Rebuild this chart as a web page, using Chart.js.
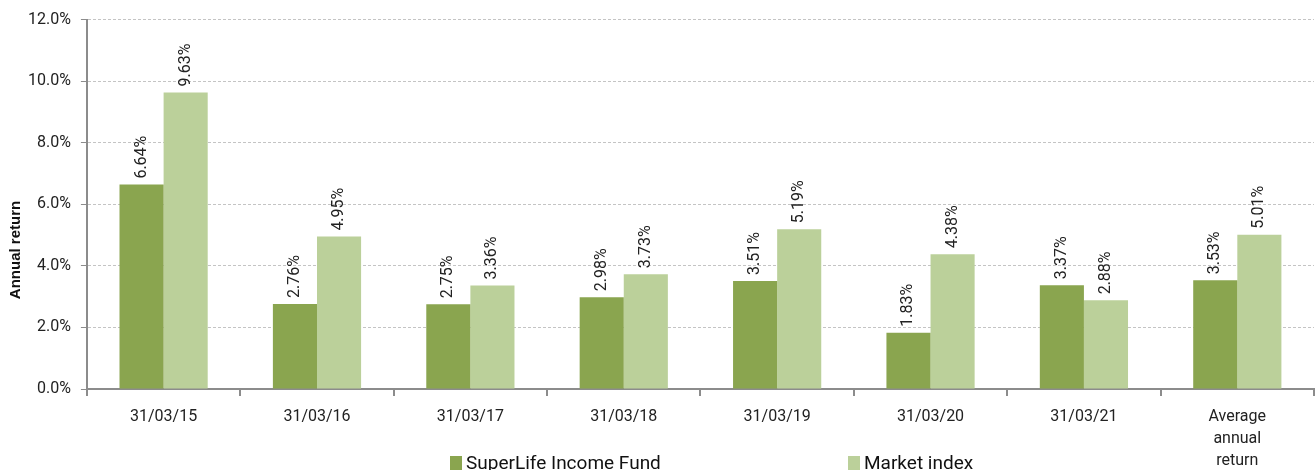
<!DOCTYPE html>
<html lang="en">
<head>
	<meta charset="UTF-8">
	<title>Annual return</title>
	<script src="https://cdn.jsdelivr.net/npm/chart.js@4/dist/chart.umd.min.js"></script>
	<style>
		html, body { margin: 0; padding: 0; background: #fff; }
		#wrap { width: 1316px; height: 470px; }
	</style>
</head>
<body>
	<div id="wrap"><canvas id="barChart"></canvas></div>

	<script>
	// chart data
	var categories = ["31/03/15", "31/03/16", "31/03/17", "31/03/18", "31/03/19", "31/03/20", "31/03/21", ["Average", "annual", "return"]];
	var fundReturns = [6.64, 2.76, 2.75, 2.98, 3.51, 1.83, 3.37, 3.53];
	var marketReturns = [9.63, 4.95, 3.36, 3.73, 5.19, 4.38, 2.88, 5.01];
	var seriesNames = ["SuperLife Income Fund", "Market index"];
	var yTicks = [0, 2, 4, 6, 8, 10, 12];

	var darkGreen = "#8aa54f";
	var lightGreen = "#bbd09a";
	var axisGrey = "#8c8c8c";

	// rotated value labels above each bar
	var valueLabels = {
		id: "valueLabels",
		afterDatasetsDraw: function(chart) {
			var ctx = chart.ctx;
			ctx.save();
			ctx.font = "16px Roboto";
			ctx.fillStyle = "#222";
			ctx.textAlign = "left";
			ctx.textBaseline = "middle";
			chart.data.datasets.forEach(function(ds, i) {
				chart.getDatasetMeta(i).data.forEach(function(bar, j) {
					ctx.save();
					ctx.translate(bar.x, bar.y - 6);
					ctx.rotate(-Math.PI / 2);
					ctx.fillText(ds.data[j].toFixed(2) + "%", 0, 0);
					ctx.restore();
				});
			});
			ctx.restore();
		}
	};

	// y title and legend drawn by hand
	var extras = {
		id: "extras",
		afterDraw: function(chart) {
			var ctx = chart.ctx;
			ctx.save();
			ctx.font = "bold 15px 'Liberation Sans'";
			ctx.fillStyle = "#111";
			ctx.textAlign = "center";
			ctx.textBaseline = "middle";
			ctx.translate(16, 250);
			ctx.rotate(-Math.PI / 2);
			ctx.fillText("Annual return", 0, 0);
			ctx.restore();

			var boxX = [450, 848];
			var colors = [darkGreen, lightGreen];
			ctx.save();
			ctx.font = "19px Roboto";
			ctx.textBaseline = "middle";
			for (var i = 0; i < seriesNames.length; i++) {
				ctx.fillStyle = colors[i];
				ctx.fillRect(boxX[i], 456, 12, 14);
				ctx.fillStyle = "#111";
				ctx.fillText(seriesNames[i], boxX[i] + 16, 464);
			}
			ctx.restore();
		}
	};

	var ctx = document.getElementById("barChart").getContext("2d");

	var myChart = new Chart(ctx, {
		type: "bar",
		data: {
			labels: categories,
			datasets: [{
				label: seriesNames[0],
				data: fundReturns,
				backgroundColor: darkGreen,
				categoryPercentage: 0.575,
				barPercentage: 1
			}, {
				label: seriesNames[1],
				data: marketReturns,
				backgroundColor: lightGreen,
				categoryPercentage: 0.575,
				barPercentage: 1
			}]
		},
		options: {
			responsive: true,
			maintainAspectRatio: false,
			animation: false,
			layout: { padding: { left: 18, right: 2, top: 3, bottom: 0 } },
			plugins: {
				legend: { display: false },
				tooltip: { enabled: false }
			},
			scales: {
				x: {
					afterFit: function(axis) { axis.height = 81; },
					grid: { offset: true, drawOnChartArea: false, tickLength: 7, color: axisGrey, lineWidth: 2 },
					border: { color: axisGrey, width: 2 },
					ticks: {
						color: "#222",
						font: { family: "Roboto", size: 16, lineHeight: 1.375 },
						padding: 10,
						maxRotation: 0,
						autoSkip: false
					}
				},
				y: {
					min: 0,
					max: 12,
					afterBuildTicks: function(axis) {
						axis.ticks = yTicks.map(function(v) { return { value: v }; });
					},
					grid: {
						color: "#c4c4c4",
						tickColor: axisGrey,
						tickLength: 6,
						tickBorderDash: [],
						drawTicks: true
					},
					border: { color: axisGrey, width: 2, dash: [3, 2] },
					ticks: {
						color: "#222",
						font: { family: "Roboto", size: 16 },
						padding: 10,
						callback: function(v) { return v.toFixed(1) + "%"; }
					}
				}
			}
		},
		plugins: [valueLabels, extras]
	});
	</script>
</body>
</html>
